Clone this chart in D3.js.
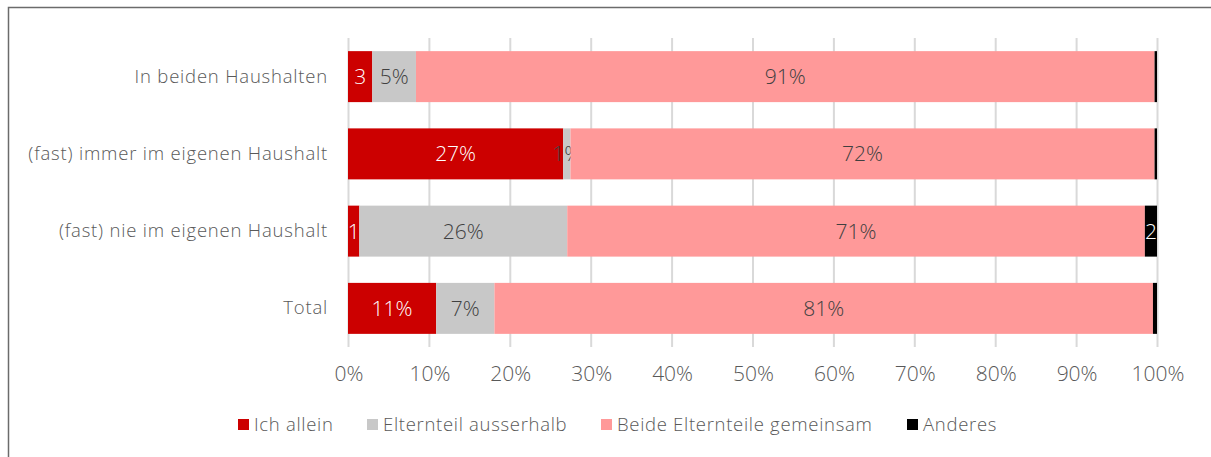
<!DOCTYPE html>
<html>

<head>
    <meta charset="UTF-8">
    <title>Stacked bar chart</title>
    <script src="https://d3js.org/d3.v7.min.js"></script>
    <style>
        body { margin: 0; background: #fff; }
        text { font-family: "Open Sans", sans-serif; font-weight: 300; }
    </style>
</head>

<body>
    <div class="canvas"></div>

    <script>
        // data
        const categories = ["In beiden Haushalten", "(fast) immer im eigenen Haushalt", "(fast) nie im eigenen Haushalt", "Total"];
        const seriesNames = ["Ich allein", "Elternteil ausserhalb", "Beide Elternteile gemeinsam", "Anderes"];
        const ichAllein = [3.0, 26.6, 1.4, 10.9];
        const elternteil = [5.4, 0.9, 25.7, 7.2];
        const beide = [91.3, 72.2, 71.4, 81.4];
        const anderes = [0.3, 0.3, 1.5, 0.5];
        // segment labels as printed (small segments without "%", tiny ones blank)
        const ichAlleinLabels = ["3", "27%", "1", "11%"];
        const elternteilLabels = ["5%", "1%", "26%", "7%"];
        const beideLabels = ["91%", "72%", "71%", "81%"];
        const anderesLabels = ["", "", "2", ""];
        const ticks = [0, 10, 20, 30, 40, 50, 60, 70, 80, 90, 100];

        const colors = ["#cc0000", "#c8c8c8", "#ff9999", "#000000"];
        const labelColors = ["#ffffff", "#404040", "#404040", "#ffffff"];

        const width = 1211;
        const height = 457;
        const margin = { top: 38, right: 54, bottom: 110, left: 348 };
        const graphWidth = width - margin.left - margin.right;
        const graphHeight = 347 - margin.top;

        const values = [ichAllein, elternteil, beide, anderes];
        const labels = [ichAlleinLabels, elternteilLabels, beideLabels, anderesLabels];
        const table = categories.map((c, i) => {
            const row = { name: c };
            seriesNames.forEach((s, j) => { row[s] = values[j][i]; });
            return row;
        });

        const svg = d3.select(".canvas")
            .append("svg")
            .attr("width", width)
            .attr("height", height);

        // outer frame (only top and left visible)
        svg.append("path")
            .attr("d", `M8.5,${height} V7.5 H${width}`)
            .attr("fill", "none")
            .attr("stroke", "#6b6b6b")
            .attr("stroke-width", 1.5);

        const graph = svg.append("g")
            .attr("transform", `translate(${margin.left}, ${margin.top})`);

        const xScale = d3.scaleLinear()
            .domain([0, 100])
            .range([0, graphWidth]);

        const yScale = d3.scaleBand()
            .domain(categories)
            .range([0, graphHeight])
            .paddingInner(0.34)
            .paddingOuter(0.17);

        // gridlines
        graph.append("g")
            .selectAll("line")
            .data(ticks)
            .enter()
            .append("line")
            .attr("x1", (d) => xScale(d) + 0.5)
            .attr("x2", (d) => xScale(d) + 0.5)
            .attr("y1", 0)
            .attr("y2", graphHeight)
            .attr("stroke", "#d9d9d9")
            .attr("stroke-width", 2);

        // stacked bars
        const stack = d3.stack().keys(seriesNames);
        const stacked = stack(table);

        const layers = graph.selectAll(".layer")
            .data(stacked)
            .enter()
            .append("g")
            .attr("class", "layer")
            .attr("fill", (d, i) => colors[i]);

        layers.selectAll("rect")
            .data((d) => d)
            .enter()
            .append("rect")
            .attr("x", (d) => xScale(d[0]))
            .attr("y", (d) => yScale(d.data.name))
            .attr("width", (d) => xScale(d[1]) - xScale(d[0]))
            .attr("height", yScale.bandwidth());

        // segment labels
        layers.each(function (layer, i) {
            d3.select(this).selectAll("text")
                .data(layer)
                .enter()
                .append("text")
                .attr("x", (d) => xScale((d[0] + d[1]) / 2))
                .attr("y", (d) => yScale(d.data.name) + yScale.bandwidth() / 2)
                .attr("dy", "0.36em")
                .attr("text-anchor", "middle")
                .attr("fill", labelColors[i])
                .style("font-size", "21px")
                .text((d, k) => labels[i][k]);
        });

        // axes
        const xAxis = d3.axisBottom(xScale)
            .tickValues(ticks)
            .tickSize(0)
            .tickPadding(19)
            .tickFormat((d) => d + "%");

        const xAxisGroup = graph.append("g")
            .attr("transform", `translate(0.5, ${graphHeight})`)
            .call(xAxis);
        xAxisGroup.select(".domain").remove();
        xAxisGroup.selectAll("text")
            .attr("fill", "#595959")
            .style("font-size", "21px")
            .style("font-family", "'Open Sans', sans-serif");

        const yAxis = d3.axisLeft(yScale)
            .tickSize(0)
            .tickPadding(20);
        const yAxisGroup = graph.append("g").call(yAxis);
        yAxisGroup.select(".domain").remove();
        yAxisGroup.selectAll("text")
            .attr("fill", "#595959")
            .style("font-size", "18.5px")
            .style("letter-spacing", "0.8px")
            .style("font-family", "'Open Sans', sans-serif");

        // legend
        const legendX = [238, 367, 601, 907];
        const legend = svg.append("g")
            .selectAll("g")
            .data(seriesNames)
            .enter()
            .append("g")
            .attr("transform", (d, i) => `translate(${legendX[i]}, 425)`);

        legend.append("rect")
            .attr("x", 0)
            .attr("y", -6)
            .attr("width", 11)
            .attr("height", 11)
            .attr("fill", (d, i) => colors[i]);

        legend.append("text")
            .attr("x", 16)
            .attr("y", 0)
            .attr("dy", "0.35em")
            .attr("fill", "#595959")
            .style("font-size", "18.5px")
            .style("letter-spacing", "0.7px")
            .text((d) => d);
    </script>
</body>

</html>
